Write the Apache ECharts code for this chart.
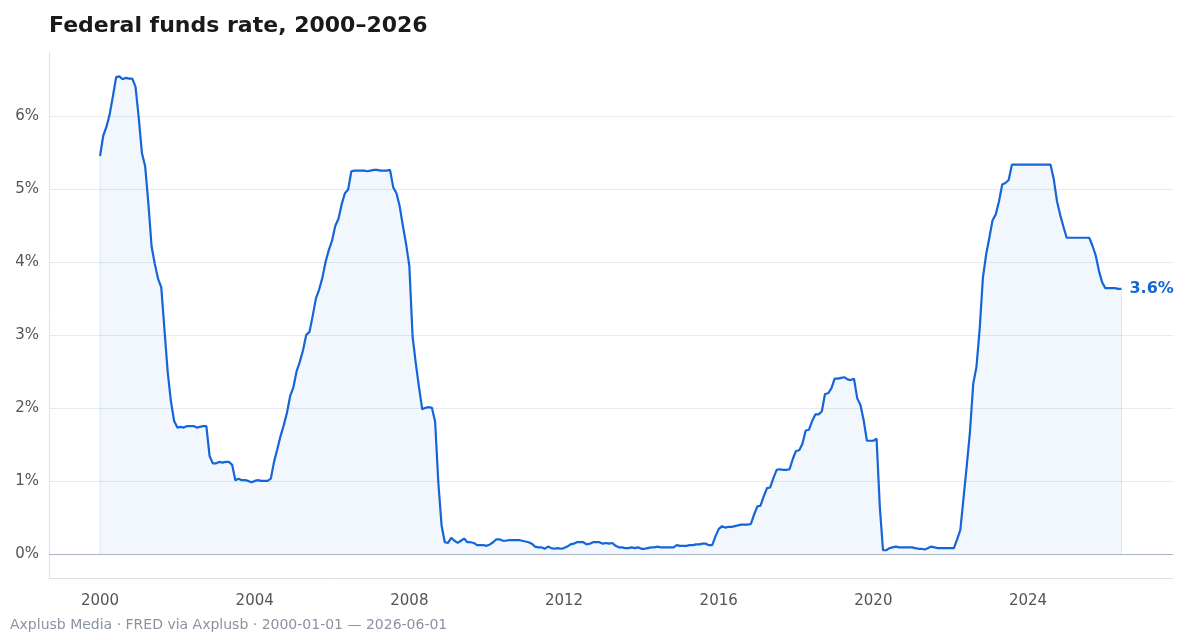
<!DOCTYPE html>
<html>
<head>
<meta charset="utf-8">
<script src="https://cdn.jsdelivr.net/npm/echarts@6/dist/echarts.min.js"></script>
<style>html,body{margin:0;padding:0;background:#fff}#chart{width:1200px;height:640px}</style>
</head>
<body>
<div id="chart"></div>
<script>
// Effective federal funds rate, monthly, Jan 2000 – Jun 2026 (%)
const startYear = 2000;
const rates = [
  5.45,5.73,5.85,6.02,6.27,6.53,6.54,6.50,6.52,6.51,6.51,6.40,
  5.98,5.49,5.31,4.80,4.21,3.97,3.77,3.65,3.07,2.49,2.09,1.82,
  1.73,1.74,1.73,1.75,1.75,1.75,1.73,1.74,1.75,1.75,1.34,1.24,
  1.24,1.26,1.25,1.26,1.26,1.22,1.01,1.03,1.01,1.01,1.00,0.98,
  1.00,1.01,1.00,1.00,1.00,1.03,1.26,1.43,1.61,1.76,1.93,2.16,
  2.28,2.50,2.63,2.79,3.00,3.04,3.26,3.50,3.62,3.78,4.00,4.16,
  4.29,4.49,4.59,4.79,4.94,4.99,5.24,5.25,5.25,5.25,5.25,5.24,
  5.25,5.26,5.26,5.25,5.25,5.25,5.26,5.02,4.94,4.76,4.49,4.24,
  3.94,2.98,2.61,2.28,1.98,2.00,2.01,2.00,1.81,0.97,0.39,0.16,
  0.15,0.22,0.18,0.15,0.18,0.21,0.16,0.16,0.15,0.12,0.12,0.12,
  0.11,0.13,0.16,0.20,0.20,0.18,0.18,0.19,0.19,0.19,0.19,0.18,
  0.17,0.16,0.14,0.10,0.09,0.09,0.07,0.10,0.08,0.07,0.08,0.07,
  0.08,0.10,0.13,0.14,0.16,0.16,0.16,0.13,0.14,0.16,0.16,0.16,
  0.14,0.15,0.14,0.15,0.11,0.09,0.09,0.08,0.08,0.09,0.08,0.09,
  0.07,0.07,0.08,0.09,0.09,0.10,0.09,0.09,0.09,0.09,0.09,0.12,
  0.11,0.11,0.11,0.12,0.12,0.13,0.13,0.14,0.14,0.12,0.12,0.24,
  0.34,0.38,0.36,0.37,0.37,0.38,0.39,0.40,0.40,0.40,0.41,0.54,
  0.65,0.66,0.79,0.90,0.91,1.04,1.15,1.16,1.15,1.15,1.16,1.30,
  1.41,1.42,1.51,1.69,1.70,1.82,1.91,1.91,1.95,2.19,2.20,2.27,
  2.40,2.40,2.41,2.42,2.39,2.38,2.40,2.13,2.04,1.83,1.55,1.55,
  1.55,1.58,0.65,0.05,0.05,0.08,0.09,0.10,0.09,0.09,0.09,0.09,
  0.09,0.08,0.07,0.07,0.06,0.08,0.10,0.09,0.08,0.08,0.08,0.08,
  0.08,0.08,0.20,0.33,0.77,1.21,1.68,2.33,2.56,3.08,3.78,4.10,
  4.33,4.57,4.65,4.83,5.06,5.08,5.12,5.33,5.33,5.33,5.33,5.33,
  5.33,5.33,5.33,5.33,5.33,5.33,5.33,5.33,5.13,4.83,4.64,4.48,
  4.33,4.33,4.33,4.33,4.33,4.33,4.33,4.33,4.22,4.09,3.88,3.72,
  3.64,3.64,3.64,3.64,3.63,3.63
];
const xTicks = [2000,2004,2008,2012,2016,2020,2024];
const yTicks = [0,1,2,3,4,5,6];

const FONT = '"DejaVu Sans", sans-serif';
const points = rates.map((v, i) => [startYear + i / 12, v]);
const last = points[points.length - 1];

const chart = echarts.init(document.getElementById('chart'));
chart.setOption({
  animation: false,
  textStyle: { fontFamily: FONT },
  title: {
    text: 'Federal funds rate, 2000–2026',
    left: 44, top: 10,
    textStyle: { fontFamily: FONT, fontSize: 22, fontWeight: 'bold', color: '#1a1a1a' }
  },
  graphic: [{
    type: 'text', left: 10, top: 618,
    style: { text: 'Axplusb Media · FRED via Axplusb · 2000-01-01 — 2026-06-01', fill: '#8a93a3', fontSize: 14, fontFamily: FONT }
  }],
  grid: { left: 49, right: 27, top: 53, bottom: 62 },
  xAxis: {
    type: 'value', min: 1998.68, max: 2027.75,
    axisLine: { show: true, onZero: false, lineStyle: { color: '#dde1e6' } },
    axisTick: { show: false },
    splitLine: { show: false },
    axisLabel: { customValues: xTicks, color: '#555', fontSize: 15, margin: 16, formatter: v => String(v) }
  },
  yAxis: {
    type: 'value', min: -0.33, max: 6.86,
    axisLine: { show: true, lineStyle: { color: '#dde1e6' } },
    axisTick: { show: false, customValues: yTicks },
    splitLine: { show: true, lineStyle: { color: '#e6e9ee' } },
    axisLabel: { customValues: yTicks, color: '#555', fontSize: 15, margin: 10, formatter: v => v + '%' }
  },
  series: [{
    type: 'line', data: points, showSymbol: false, symbol: 'none',
    lineStyle: { color: '#1565d8', width: 2.2 },
    areaStyle: { color: 'rgba(21,101,216,0.08)', origin: 0 },
    markLine: {
      silent: true, symbol: 'none', label: { show: false },
      lineStyle: { color: '#a9b3c2', type: 'solid', width: 1 },
      data: [{ yAxis: 0 }]
    },
    markPoint: {
      symbol: 'circle', symbolSize: 0,
      data: [{ coord: last, value: '3.6%' }],
      label: { show: true, position: 'right', distance: 8, formatter: '3.6%', color: '#1565d8', fontWeight: 'bold', fontSize: 16, fontFamily: FONT }
    }
  }, {
    type: 'line', symbol: 'none', silent: true,
    data: [[startYear, 0], [startYear, rates[0]]],
    lineStyle: { color: 'rgba(21,101,216,0.12)', width: 1 }
  }, {
    type: 'line', symbol: 'none', silent: true,
    data: [[last[0], 0], last],
    lineStyle: { color: 'rgba(21,101,216,0.12)', width: 1 }
  }]
});
</script>
</body>
</html>
